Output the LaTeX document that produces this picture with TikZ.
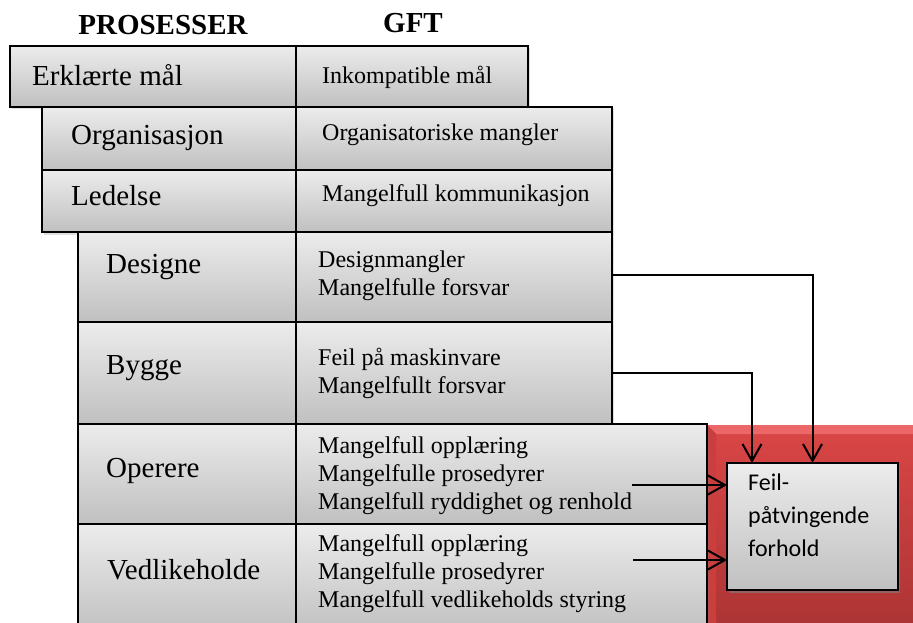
\documentclass[tikz,border=0pt]{standalone}
\usepackage{fontspec}
\setmainfont{Liberation Serif}
\newfontfamily\feilfamily{Carlito}
\usetikzlibrary{arrows.meta,shadows}

\definecolor{gtop}{RGB}{236,236,236}
\definecolor{gbot}{RGB}{192,192,192}
\definecolor{rtop}{RGB}{218,70,70}
\definecolor{rbot}{RGB}{172,52,52}
\definecolor{rlight}{RGB}{236,104,104}
\definecolor{rside}{RGB}{202,62,62}

\newcommand\procfont{\fontsize{29}{34}\selectfont}
\newcommand\gftfont{\fontsize{24}{28}\selectfont}
\newcommand\hdrfont{\fontsize{29}{34}\selectfont\bfseries}
\newcommand\feilfont{\feilfamily\fontsize{24}{33}\selectfont}

\begin{document}
\begin{tikzpicture}[x=1pt,y=-1pt,
  box/.style={rectangle, draw=black, line width=1.6pt, top color=gtop, bottom color=gbot,
    anchor=north west, inner sep=0pt, outer sep=0pt,
    drop shadow={opacity=0.25, shadow xshift=1.5pt, shadow yshift=-2.5pt}},
  txt/.style={anchor=north west, inner sep=0pt, align=left, execute at begin node=\strut},
  ptxt/.style={txt, font=\procfont},
  gtxt/.style={txt, font=\gftfont},
  ftxt/.style={txt, font=\feilfont},
  hdr/.style={anchor=base, inner sep=0pt, font=\hdrfont},
  arr/.style={line width=2pt, -{Straight Barb[length=17pt,width=19pt]}}]

\useasboundingbox (0,0) rectangle (913,623);
\clip (0,0) rectangle (913,623);
\fill[white] (0,0) rectangle (913,623);

% headings
\node[hdr] (hp) at (163,35) {PROSESSER};
\node[hdr] (hg) at (413,33) {GFT};

% red field behind the outcome box
\shade[top color=rtop, bottom color=rbot] (707,425) rectangle (913,630);
\fill[rlight] (707,425) -- (913,425) -- (913,434) -- (716,434) -- cycle;
\fill[rside] (707,425) -- (716,434) -- (716,630) -- (707,630) -- cycle;

% process / GFT rows
\node[box, minimum width=286pt, minimum height=61pt] (p1) at (10,46) {};
\node[box, minimum width=232pt, minimum height=61pt] (g1) at (296,46) {};

\node[box, minimum width=254pt, minimum height=63pt] (p2) at (42,107) {};
\node[box, minimum width=316pt, minimum height=63pt] (g2) at (296,107) {};

\node[box, minimum width=254pt, minimum height=62pt] (p3) at (42,170) {};
\node[box, minimum width=316pt, minimum height=62pt] (g3) at (296,170) {};

\node[box, minimum width=218pt, minimum height=90pt] (p4) at (78,232) {};
\node[box, minimum width=316pt, minimum height=90pt] (g4) at (296,232) {};

\node[box, minimum width=218pt, minimum height=102pt] (p5) at (78,322) {};
\node[box, minimum width=316pt, minimum height=102pt] (g5) at (296,322) {};

\node[box, minimum width=218pt, minimum height=100pt] (p6) at (78,424) {};
\node[box, minimum width=411pt, minimum height=100pt] (g6) at (296,424) {};

\node[box, minimum width=218pt, minimum height=110pt] (p7) at (78,524) {};
\node[box, minimum width=411pt, minimum height=110pt] (g7) at (296,524) {};

% labels
\node[ptxt] (tp1) at (32,61.2) {Erklærte mål};
\node[ptxt] (tp2) at (71,120.2) {Organisasjon};
\node[ptxt] (tp3) at (71,181.2) {Ledelse};
\node[ptxt] (tp4) at (106,249.2) {Designe};
\node[ptxt] (tp5) at (106,350.2) {Bygge};
\node[ptxt] (tp6) at (106,453.2) {Operere};
\node[ptxt] (tp7) at (107,555.2) {Vedlikeholde};

\node[gtxt] (tg1) at (322,63.4) {Inkompatible mål};
\node[gtxt] (tg2) at (322,120.4) {Organisatoriske mangler};
\node[gtxt] (tg3) at (322,181.4) {Mangelfull kommunikasjon};
\node[gtxt] (tg4) at (318,250.4) {Designmangler\\Mangelfulle forsvar};
\node[gtxt] (tg5) at (318,348.4) {Feil på maskinvare\\Mangelfullt forsvar};
\node[gtxt] (tg6) at (318,436.4) {Mangelfull opplæring\\Mangelfulle prosedyrer\\Mangelfull ryddighet og renhold};
\node[gtxt] (tg7) at (318,534.4) {Mangelfull opplæring\\Mangelfulle prosedyrer\\Mangelfull vedlikeholds styring};

% outcome box
\node[box, minimum width=171pt, minimum height=127pt,
  drop shadow={opacity=0.45, shadow xshift=2pt, shadow yshift=-3pt}] (feil) at (727,463) {};
\node[ftxt] (tf) at (748,473.9) {Feil-\\påtvingende\\forhold};

% connectors into the outcome box
\coordinate (op) at (632,485);
\coordinate (ve) at (633,560);
\draw[arr] ([yshift=2pt]g4.east) -| (feil.north);
\draw[arr] (g5.east) -| ([xshift=25pt]feil.north west);
\draw[arr] (op) -- (op -| feil.west);
\draw[arr] (ve) -- (ve -| feil.west);

\end{tikzpicture}
\end{document}
